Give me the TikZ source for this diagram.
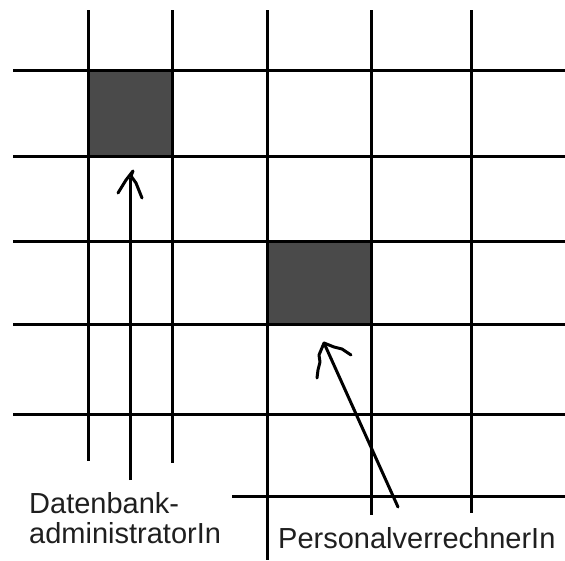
\documentclass[tikz,border=0pt]{standalone}
\usepackage{fontspec}
\setmainfont{Liberation Sans}
\begin{document}
\begin{tikzpicture}[x=1pt,y=-1pt,
  gridline/.style={line width=3pt,black},
  cellfill/.style={fill=black!71},
  handline/.style={line width=3pt,black,line join=round,line cap=round},
  lbl/.style={inner sep=0pt,anchor=base west,text=black!88,font=\fontsize{29}{30}\selectfont}]
\useasboundingbox (0,0) rectangle (565,560);
\fill[white] (0,0) rectangle (565,560);
% shaded cells
\fill[cellfill] (88,70) rectangle (172,156);
\fill[cellfill] (267,241) rectangle (371,324);
% horizontal lines
\foreach \y in {70,156,241,324,414}
  \draw[gridline] (13,\y) -- (565,\y);
\draw[gridline] (232,496) -- (565,496);
% vertical lines
\draw[gridline] (88,10) -- (88,461);
\draw[gridline] (172,10) -- (172,463);
\draw[gridline] (267,10) -- (267,560);
\draw[gridline] (371,10) -- (371,515);
\draw[gridline] (471,10) -- (471,513);
% arrow 1 (Datenbank-administratorIn)
\coordinate (a1s) at (130,480);
\coordinate (a1t) at (133,171);
\draw[gridline] (a1s) -- (130,178);
\draw[handline] (118,193) -- (126,180) -- (a1t) -- (131,176) -- (136,183) -- (142,198);
% arrow 2 (PersonalverrechnerIn)
\coordinate (a2s) at (398,507);
\coordinate (a2t) at (324,343);
\draw[handline] (a2s) -- (a2t);
\draw[handline] (317,378) -- (318,370) -- (320,362) -- (319,355) -- (a2t) -- (334,347) -- (342,349) -- (351,355);
% labels
\node[lbl] (l1) at (29,513) {Datenbank-};
\node[lbl] (l2) at (29,543) {administratorIn};
\node[lbl] (l3) at (278,548) {PersonalverrechnerIn};
\end{tikzpicture}
\end{document}
